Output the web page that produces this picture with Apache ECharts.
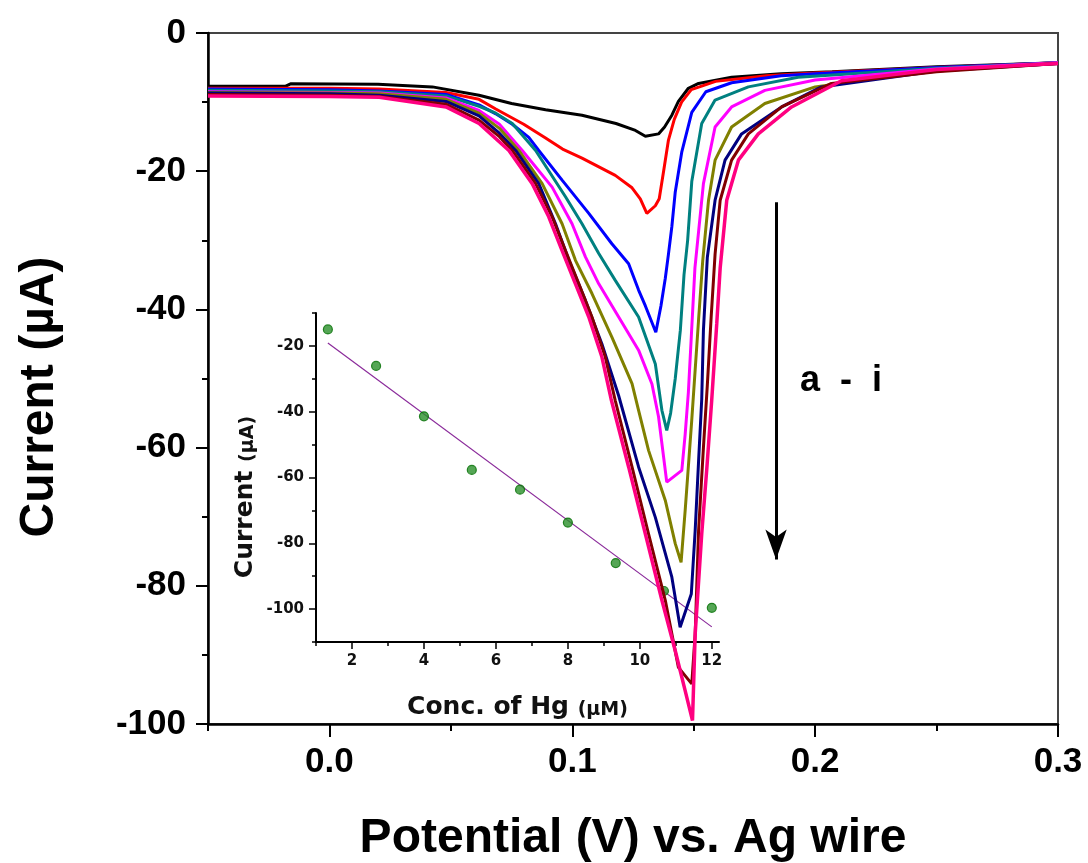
<!DOCTYPE html>
<html>
<head>
<meta charset="utf-8">
<script src="https://cdn.jsdelivr.net/npm/echarts@6/dist/echarts.min.js"></script>
<style>
html,body{margin:0;padding:0;background:#fff;}
#chart{width:1088px;height:863px;}
</style>
</head>
<body>
<div id="chart"></div>
<script>
// ---- Main DPV curves: [potential (V), current (µA)] ----
const curveA = [[-0.05,-7.7],[-0.018,-7.7],[-0.016,-7.35],[0.02,-7.4],[0.0424,-7.8],[0.0616,-9.0],[0.075,-10.2],[0.089,-11.1],[0.104,-11.9],[0.118,-13.1],[0.126,-14.1],[0.1301,-14.95],[0.1355,-14.6],[0.138,-13.6],[0.141,-11.9],[0.1437,-9.9],[0.1478,-8.0],[0.152,-7.3],[0.1656,-6.4],[0.186,-5.9],[0.207,-5.6],[0.25,-4.9],[0.3,-4.3]];
const curveB = [[-0.05,-8.0],[0.0,-8.0],[0.0205,-8.1],[0.048,-8.6],[0.0616,-9.6],[0.0685,-11.0],[0.08,-13.2],[0.089,-15.2],[0.096,-16.8],[0.104,-18.1],[0.1177,-20.6],[0.1246,-22.4],[0.128,-24.0],[0.1307,-26.1],[0.1342,-25.0],[0.1358,-24.0],[0.1376,-20.0],[0.1396,-15.5],[0.142,-12.5],[0.145,-10.0],[0.149,-8.2],[0.159,-7.0],[0.18,-6.2],[0.2,-5.8],[0.25,-5.0],[0.3,-4.3]];
const curveC = [[-0.05,-8.1],[0.0,-8.2],[0.0205,-8.4],[0.048,-8.9],[0.0616,-10.4],[0.0685,-11.7],[0.0753,-13.2],[0.0821,-15.1],[0.0862,-17.0],[0.0958,-21.3],[0.1068,-26.1],[0.1163,-30.5],[0.1232,-33.4],[0.1273,-37.2],[0.1301,-39.5],[0.1344,-43.3],[0.1365,-39.5],[0.1383,-35.5],[0.1396,-32],[0.141,-28],[0.1424,-23],[0.1451,-17.2],[0.1492,-11.5],[0.155,-8.5],[0.1656,-7.2],[0.186,-6.2],[0.2,-5.9],[0.25,-5.0],[0.3,-4.3]];
const curveD = [[-0.05,-8.3],[0.0,-8.4],[0.0205,-8.5],[0.048,-9.1],[0.0616,-10.6],[0.0685,-11.6],[0.0753,-13.1],[0.0849,-17.0],[0.0972,-23.7],[0.104,-27.6],[0.1109,-31.9],[0.1177,-35.8],[0.1273,-41.1],[0.1342,-47.9],[0.1369,-54.6],[0.1389,-57.5],[0.1405,-55],[0.1424,-50],[0.1445,-43],[0.146,-35],[0.1475,-30],[0.1492,-21.5],[0.1533,-13.1],[0.1588,-9.7],[0.1725,-7.8],[0.193,-6.4],[0.25,-5.1],[0.3,-4.3]];
const curveE = [[-0.05,-8.5],[0.0,-8.6],[0.0205,-8.7],[0.048,-9.4],[0.0616,-11.2],[0.07,-13.2],[0.0794,-17.0],[0.0917,-22.3],[0.0999,-27.6],[0.1054,-32.4],[0.1109,-36.3],[0.1191,-41.1],[0.1273,-45.9],[0.1328,-50.8],[0.1355,-55.5],[0.1389,-65.0],[0.1451,-63.3],[0.1465,-58],[0.1478,-52],[0.149,-44],[0.1505,-34],[0.1525,-27],[0.154,-21.8],[0.1588,-13.6],[0.1656,-10.7],[0.1793,-8.3],[0.2,-6.8],[0.25,-5.2],[0.3,-4.3]];
const curveF = [[-0.05,-8.6],[0.0,-8.7],[0.0205,-8.8],[0.048,-9.6],[0.0616,-11.6],[0.07,-13.8],[0.078,-17.0],[0.0876,-21.8],[0.0958,-27.6],[0.1013,-32.9],[0.1081,-37.7],[0.1163,-44.0],[0.1246,-50.75],[0.1273,-54.6],[0.1314,-60.4],[0.1383,-67.65],[0.1424,-73.9],[0.1448,-76.6],[0.1465,-69],[0.1492,-56],[0.152,-41.5],[0.1537,-33],[0.1561,-24.2],[0.1588,-18.4],[0.1656,-13.6],[0.1793,-10.2],[0.2,-7.8],[0.25,-5.4],[0.3,-4.4]];
const curveG = [[-0.05,-8.7],[0.0,-8.8],[0.0205,-9.0],[0.048,-9.9],[0.0616,-12.0],[0.07,-14.5],[0.0767,-17.0],[0.0862,-21.8],[0.0931,-27.6],[0.0986,-32.9],[0.1054,-38.7],[0.1122,-45.0],[0.1191,-52.5],[0.1273,-62.8],[0.1342,-70.1],[0.141,-78.75],[0.1444,-86.0],[0.149,-81.2],[0.1506,-72],[0.152,-62],[0.1533,-53],[0.154,-43],[0.1556,-32.5],[0.1588,-24.2],[0.1629,-18.4],[0.1697,-14.6],[0.1862,-10.7],[0.2026,-7.8],[0.25,-5.5],[0.3,-4.4]];
const curveH = [[-0.05,-8.9],[0.0,-9.0],[0.0205,-9.2],[0.048,-10.3],[0.0616,-12.6],[0.07,-15.0],[0.0753,-17.0],[0.0849,-21.8],[0.0917,-26.6],[0.0972,-31.5],[0.1027,-36.3],[0.1081,-41.1],[0.1136,-46.9],[0.1177,-53.2],[0.1246,-62.8],[0.1314,-72.5],[0.1383,-82.1],[0.1437,-91.8],[0.1492,-94.2],[0.1506,-87],[0.152,-72],[0.154,-60],[0.1556,-51],[0.1572,-41],[0.1588,-32],[0.1609,-24.2],[0.1656,-18.4],[0.1725,-14.6],[0.1862,-10.7],[0.2067,-7.3],[0.25,-5.6],[0.3,-4.4]];
const curveI = [[-0.05,-9.1],[0.0,-9.2],[0.0205,-9.3],[0.048,-10.7],[0.0616,-13.1],[0.0739,-17.0],[0.0835,-21.8],[0.0903,-26.6],[0.0958,-31.5],[0.1013,-36.3],[0.1068,-41.1],[0.1122,-46.9],[0.116,-53.0],[0.1232,-62.8],[0.1301,-72.5],[0.1369,-82.1],[0.1424,-89.4],[0.1465,-95.2],[0.1495,-99.5],[0.1506,-87],[0.1533,-72.5],[0.1554,-63],[0.1574,-53.2],[0.1595,-42],[0.1609,-34],[0.1636,-24.2],[0.1684,-18.4],[0.1766,-14.6],[0.1903,-10.7],[0.2108,-6.9],[0.25,-5.3],[0.3,-4.4]];
const curveNames = ['a','b','c','d','e','f','g','h','i'];
const curveColors = ['#000000','#ff0000','#0000ff','#008080','#ff00ff','#808000','#000080','#800000','#ff0080'];

// main axis ticks
const mainXLabels = [0, 0.1, 0.2, 0.3];
const mainXMinor = [-0.05, 0.05, 0.15, 0.25];
const mainYLabels = [0, -20, -40, -60, -80, -100];
const mainYMinor = [-10, -30, -50, -70, -90];

// ---- Inset: calibration ----
const concHg = [1.33, 2.67, 4.0, 5.33, 6.67, 8.0, 9.33, 10.67, 12.0];
const peakCurrent = [-15.0, -26.1, -41.4, -57.7, -63.7, -73.7, -86.0, -94.5, -99.6];
const fitX = [1.33, 12.0];
const fitY = [-19.1, -105.4];
const insetXLabels = [2, 4, 6, 8, 10, 12];
const insetXMinor = [1, 3, 5, 7, 9, 11];
const insetYLabels = [-20, -40, -60, -80, -100];
const insetYMinor = [-10, -30, -50, -70, -90, -110];

// arrow annotation
const arrowV = [0.1839, 0.1839];
const arrowI = [-24.5, -76.2];

const chart = echarts.init(document.getElementById('chart'), null, {renderer:'canvas'});
const F = 'Arial, "Liberation Sans", sans-serif';
const FD = '"DejaVu Sans", sans-serif';
const curves = [curveA, curveB, curveC, curveD, curveE, curveF, curveG, curveH, curveI];

const series = curves.map((c, k) => ({
  name: curveNames[k], type: 'line', xAxisIndex: 0, yAxisIndex: 0,
  data: c, showSymbol: false, symbol: 'none',
  lineStyle: {color: curveColors[k], width: k === 8 ? 3.5 : 3},
  itemStyle: {color: curveColors[k]}, z: 3 + k, animation: false
}));
series[0].markLine = {
  silent: true, symbol: ['none', 'arrow'], symbolSize: [16, 30],
  label: {show: false},
  lineStyle: {color: '#000', width: 3, type: 'solid'},
  data: [[{coord: [arrowV[0], arrowI[0]]}, {coord: [arrowV[1], arrowI[1]]}]]
};
series.push({
  type: 'line', xAxisIndex: 2, yAxisIndex: 2, data: fitX.map((x, i) => [x, fitY[i]]),
  showSymbol: false, symbol: 'none', lineStyle: {color: '#8a2a9a', width: 1.2}, z: 2, animation: false
});
series.push({
  type: 'scatter', xAxisIndex: 2, yAxisIndex: 2, data: concHg.map((x, i) => [x, peakCurrent[i]]),
  symbol: 'circle', symbolSize: 9,
  itemStyle: {color: '#2a902a', borderColor: '#006e00', borderWidth: 1.2}, z: 3, animation: false
});

const option = {
  backgroundColor: '#fff',
  animation: false,
  grid: [
    {left: 208, top: 33, right: 30, bottom: 139, outerBoundsMode: 'none', containLabel: false, show: true, borderColor: '#444', borderWidth: 2, backgroundColor: 'transparent'},
    {left: 316, top: 313, right: 369, bottom: 221, outerBoundsMode: 'none', containLabel: false}
  ],
  xAxis: [
    {gridIndex: 0, type: 'value', position: 'bottom', min: -0.05, max: 0.3,
     axisLine: {show: true, onZero: false, lineStyle: {color: '#000', width: 2.5}},
     axisTick: {show: true, customValues: mainXLabels, length: 13, lineStyle: {color: '#000', width: 2}},
     axisLabel: {customValues: mainXLabels, formatter: v => Number(v).toFixed(1), fontFamily: F, fontSize: 35, fontWeight: 'bold', color: '#000', margin: 21},
     splitLine: {show: false},
     name: 'Potential (V) vs. Ag wire', nameLocation: 'middle', nameGap: 91,
     nameTextStyle: {fontFamily: F, fontSize: 48, fontWeight: 'bold', color: '#000'}},
    {gridIndex: 0, type: 'value', position: 'bottom', offset: 0, min: -0.05, max: 0.3,
     axisLine: {show: false, onZero: false},
     axisTick: {show: true, customValues: mainXMinor, length: 7, lineStyle: {color: '#000', width: 2}},
     axisLabel: {show: false}, splitLine: {show: false}},
    {gridIndex: 1, type: 'value', position: 'bottom', min: 1, max: 12.2,
     axisLine: {show: true, onZero: false, lineStyle: {color: '#000', width: 2}},
     axisTick: {show: true, customValues: insetXLabels, length: 7, lineStyle: {color: '#000', width: 1.5}},
     axisLabel: {customValues: insetXLabels, fontFamily: FD, fontSize: 15, fontWeight: 'bold', color: '#111', margin: 12},
     splitLine: {show: false},
     name: '{a|Conc. of Hg }{b|(µM)}', nameLocation: 'middle', nameGap: 50,
     nameTextStyle: {rich: {
       a: {fontFamily: FD, fontSize: 25, fontWeight: 'bold', color: '#111', verticalAlign: 'bottom', lineHeight: 28},
       b: {fontFamily: FD, fontSize: 19, fontWeight: 'bold', color: '#111', verticalAlign: 'bottom', lineHeight: 28}}}},
    {gridIndex: 1, type: 'value', position: 'bottom', offset: 0, min: 1, max: 12.2,
     axisLine: {show: false, onZero: false},
     axisTick: {show: true, customValues: insetXMinor, length: 4, lineStyle: {color: '#000', width: 1.5}},
     axisLabel: {show: false}, splitLine: {show: false}}
  ],
  yAxis: [
    {gridIndex: 0, type: 'value', position: 'left', min: -100, max: 0,
     axisLine: {show: true, onZero: false, lineStyle: {color: '#000', width: 2.5}},
     axisTick: {show: true, customValues: mainYLabels, length: 12, lineStyle: {color: '#000', width: 2}},
     axisLabel: {customValues: mainYLabels, fontFamily: F, fontSize: 35, fontWeight: 'bold', color: '#000', margin: 22},
     splitLine: {show: false},
     name: 'Current (µA)', nameLocation: 'middle', nameGap: 144,
     nameTextStyle: {fontFamily: F, fontSize: 48, fontWeight: 'bold', color: '#000', padding: [0, 37, 0, 0]}},
    {gridIndex: 0, type: 'value', position: 'left', offset: 0, min: -100, max: 0,
     axisLine: {show: false, onZero: false},
     axisTick: {show: true, customValues: mainYMinor, length: 6, lineStyle: {color: '#000', width: 2}},
     axisLabel: {show: false}, splitLine: {show: false}},
    {gridIndex: 1, type: 'value', position: 'left', min: -110, max: -10,
     axisLine: {show: true, onZero: false, lineStyle: {color: '#000', width: 2}},
     axisTick: {show: true, customValues: insetYLabels, length: 7, lineStyle: {color: '#000', width: 1.5}},
     axisLabel: {customValues: insetYLabels, fontFamily: FD, fontSize: 15, fontWeight: 'bold', color: '#111', margin: 12},
     splitLine: {show: false},
     name: '{a|Current }{b|(µA)}', nameLocation: 'middle', nameGap: 58,
     nameTextStyle: {padding: [0, 39, 0, 0], rich: {
       a: {fontFamily: FD, fontSize: 25, fontWeight: 'bold', color: '#111', verticalAlign: 'bottom', lineHeight: 28},
       b: {fontFamily: FD, fontSize: 19, fontWeight: 'bold', color: '#111', verticalAlign: 'bottom', lineHeight: 28}}}},
    {gridIndex: 1, type: 'value', position: 'left', offset: 0, min: -110, max: -10,
     axisLine: {show: false, onZero: false},
     axisTick: {show: true, customValues: insetYMinor, length: 4, lineStyle: {color: '#000', width: 1.5}},
     axisLabel: {show: false}, splitLine: {show: false}}
  ],
  graphic: [
    {type: 'text', left: 800, top: 363, style: {text: 'a  -  i', fontFamily: F, fontSize: 36, fontWeight: 'bold', fill: '#000'}}
  ],
  series: series
};
chart.setOption(option);
</script>
</body>
</html>
